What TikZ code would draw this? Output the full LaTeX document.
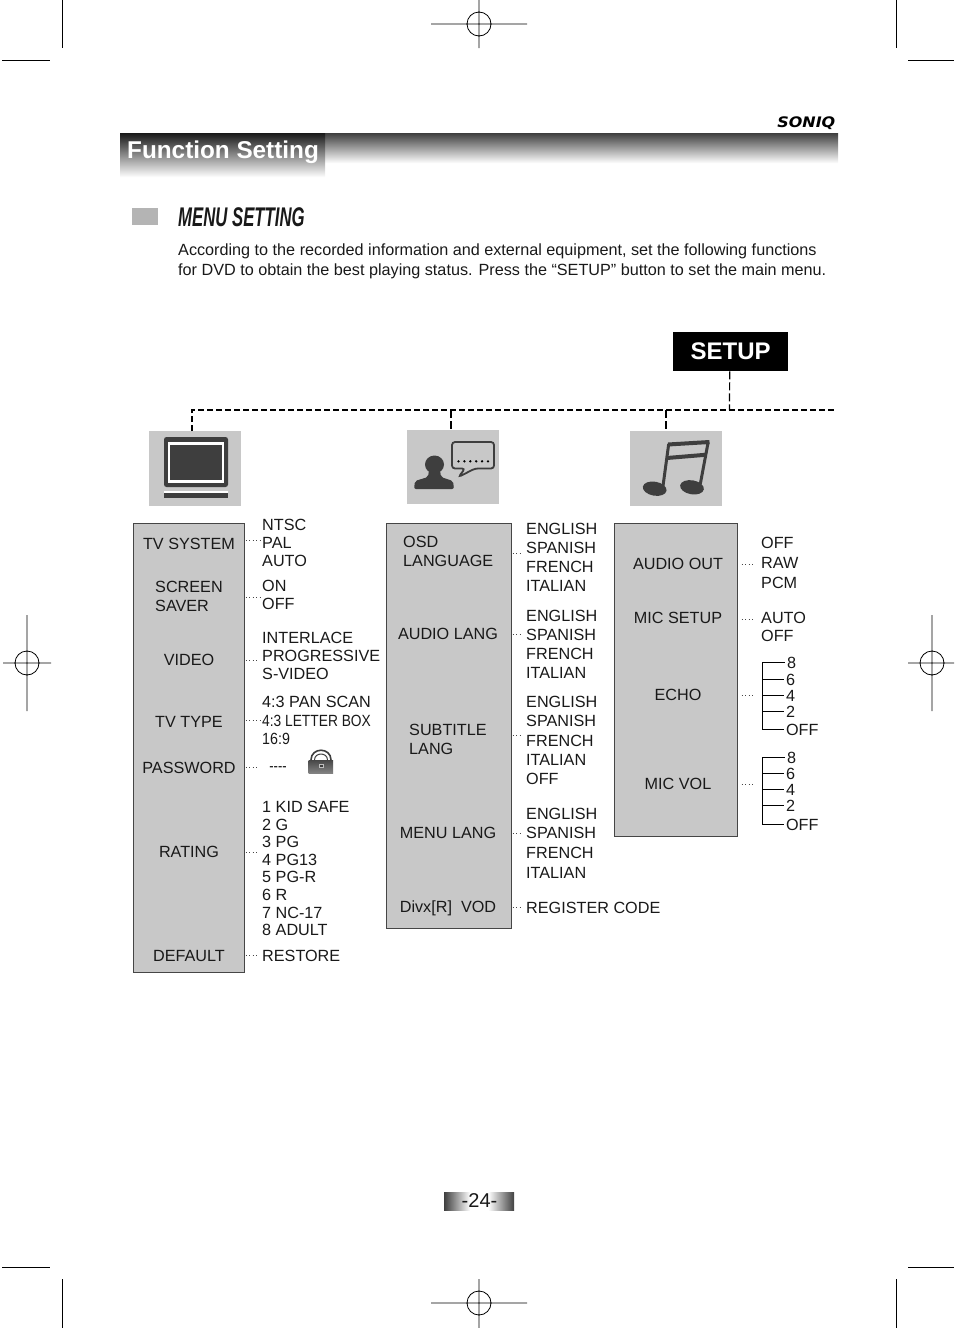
\documentclass[tikz,border=0pt]{standalone}
\usepackage{fontspec}
\setmainfont{Liberation Sans}
\newfontfamily\logofont{DejaVu Sans}
\usetikzlibrary{positioning,calc}
\definecolor{panel1}{RGB}{200,200,200}
\definecolor{edge1}{RGB}{70,70,70}
\definecolor{icon1}{RGB}{62,62,62}
\definecolor{ink1}{RGB}{25,25,25}
\definecolor{square1}{RGB}{180,180,180}

\begin{document}
\begin{tikzpicture}[x=1pt, y=-1pt,
    menubox/.style={draw=edge1, line width=1.1pt, fill=panel1, anchor=north west, inner sep=0pt},
    iconbox/.style={fill=panel1, anchor=north west, inner sep=0pt},
    menulabel/.style={inner sep=0pt, align=left, text=ink1, font=\fontsize{16.2}{19}\selectfont},
    vallist/.style={inner sep=0pt, anchor=west, align=left, text=ink1, font=\fontsize{16.2}{#1}\selectfont},
    treeval/.style={inner sep=0pt, outer sep=2pt, anchor=west, text=ink1, text height=13.2pt, font=\fontsize{16.2}{19}\selectfont},
    leader/.style={draw=edge1, line width=0.7pt, dash pattern=on 1pt off 2.5pt},
    busline/.style={draw=black, line width=1.05pt, dash pattern=on 6pt off 3pt},
    drop/.style={draw=black, line width=1.2pt, dash pattern=on 8pt off 3pt},
    treeline/.style={draw=black, line width=0.9pt},
    cropline/.style={draw=black, line width=0.8pt}]
    \useasboundingbox (0,0) rectangle (954,1328);

    \draw[cropline] (62,0) -- (62,48) (2,60) -- (50,60) (896,0) -- (896,48) (908,60) -- (954,60);
    \draw[cropline] (62,1279) -- (62,1328) (2,1267) -- (50,1267) (896,1279) -- (896,1328) (908,1267) -- (954,1267);
    \draw[cropline] (431,24) -- (527,24) (479,0) -- (479,48) (479,24) circle[radius=12];
    \draw[cropline] (431,1303) -- (527,1303) (479,1279) -- (479,1328) (479,1303) circle[radius=12];
    \draw[cropline] (3,663) -- (51,663) (27,615) -- (27,711) (27,663) circle[radius=12];
    \draw[cropline] (908,663) -- (954,663) (932,615) -- (932,711) (932,663) circle[radius=12];

    \node[anchor=north west, inner sep=0pt, minimum width=718pt, minimum height=30pt, top color=black!75, bottom color=white] (banner) at (120,133) {};
    \node[anchor=north west, inner sep=0pt, minimum width=205pt, minimum height=44pt, top color=black!90, bottom color=white] (titletab) at (120,133) {};
    \node[text=white, inner sep=0pt, anchor=base west, font=\fontsize{24.3}{28}\selectfont\bfseries] (title) at (127,158) {Function Setting};
    \node[inner sep=0pt, anchor=east, font=\logofont\fontsize{14.5}{15}\selectfont\bfseries\itshape] (logo) at (835.5,123) {\scalebox{1.1}[1]{SONIQ}};

    \node[anchor=north west, inner sep=0pt, minimum width=26pt, minimum height=17pt, fill=square1] (marker) at (132,208) {};
    \node[inner sep=0pt, anchor=west, text=ink1, font=\fontsize{27}{30}\selectfont\bfseries\itshape] (heading) at (178,217) {\scalebox{.62}[1]{MENU SETTING}};
    \node[inner sep=0pt, anchor=north west, align=left, text=ink1, font=\fontsize{16.2}{19.5}\selectfont] (intro) at (178,244) {According to the recorded information and external equipment, set the following functions\\for DVD to obtain the best playing status. Press the “SETUP” button to set the main menu.};

    \node[anchor=north west, inner sep=0pt, minimum width=115pt, minimum height=39pt, fill=black, text=white, font=\fontsize{24}{28}\selectfont\bfseries] (setup) at (673,332) {SETUP};

    \node[iconbox, minimum width=92pt, minimum height=75pt] (tvicon) at (149,431) {};
    \node[iconbox, minimum width=92pt, minimum height=74pt] (talkicon) at (407,430) {};
    \node[iconbox, minimum width=92pt, minimum height=75pt] (noteicon) at (630,431) {};

    \coordinate (busstart) at (192,410);
    \coordinate (busend) at (836,410);
    \coordinate (setupdrop) at (729.5,410);
    \coordinate (talkdrop) at (451,410);
    \coordinate (notedrop) at (666,410);
    \draw[drop] ([xshift=-1pt]setup.south) -- (setupdrop);
    \draw[busline] (busstart |- tvicon.north) -- (busstart) -- (busend);
    \draw[drop] (talkdrop) -- (talkdrop |- talkicon.north);
    \draw[drop] (notedrop) -- (notedrop |- noteicon.north);

    \fill[icon1, rounded corners=2.5pt] (164,437) rectangle (228,487);
    \fill[white] (168,442) rectangle (224,483);
    \fill[icon1] (170,445) rectangle (222,480);
    \fill[white] (164,491) rectangle (228,493);
    \fill[icon1] (164,493) rectangle (228,498);

    \fill[icon1] (434.5,464.5) ellipse[x radius=9.5, y radius=9];
    \fill[icon1, rounded corners=2pt] (414,489) -- (415,481) -- (428,477) -- (429,470) -- (440,470) -- (441,477) -- (453,481) -- (454,489) -- cycle;
    \draw[icon1, line width=1.8pt, rounded corners=3pt, fill=panel1] (452,442) -- (494,442) -- (494,468.5) -- (475,468.5) -- (458.5,477) -- (465,468.5) -- (452,468.5) -- cycle;
    \foreach \dotx in {458.5,464.4,470.3,476.2,482.1,488}
        \fill[black] (\dotx,461.3) circle[radius=1.3];

    \draw[icon1, line width=3pt] (668.7,444) -- (663,486);
    \draw[icon1, line width=3pt] (708,443) -- (700.3,484);
    \draw[icon1, line width=4pt] (668,444.5) -- (709.5,442);
    \draw[icon1, line width=4pt] (667,458) -- (706.5,454.7);
    \fill[icon1, rotate around={-10:(654.7,488.7)}] (654.7,488.7) ellipse[x radius=12, y radius=7];
    \fill[icon1, rotate around={-10:(692,487.3)}] (692,487.3) ellipse[x radius=12, y radius=7];

    \node[menubox, minimum width=111pt, minimum height=448.5pt] (videobox) at (132.5,523) {};
    \node[menubox, minimum width=125pt, minimum height=404.5pt] (langbox) at (385.5,523) {};
    \node[menubox, minimum width=123pt, minimum height=312.5pt] (audiobox) at (613.5,523) {};

    \node[menulabel] (tvsystem) at (189,544) {TV SYSTEM};
    \node[menulabel, anchor=west] (saver) at (155,596.5) {SCREEN\\SAVER};
    \node[menulabel] (video) at (189,660) {VIDEO};
    \node[menulabel] (tvtype) at (189,722) {TV TYPE};
    \node[menulabel] (password) at (189,768) {PASSWORD};
    \node[menulabel] (rating) at (189,852) {RATING};
    \node[menulabel] (default) at (189,956) {DEFAULT};

    \node[vallist=18] (tvsystemval) at (262,543) {NTSC\\PAL\\AUTO};
    \node[vallist=18] (saverval) at (262,595) {ON\\OFF};
    \node[vallist=17.6] (videoval) at (262,656) {INTERLACE\\PROGRESSIVE\\S-VIDEO};
    \node[vallist=18] (tvtypeval) at (262,720.5) {4:3 PAN SCAN\\[1.5pt]\scalebox{.85}[1]{4:3 LETTER BOX}\\\scalebox{.88}[1]{16:9}};
    \node[vallist=18, anchor=center] (passwordval) at (278,769) {\scalebox{.8}[1]{{-}{-}{-}{-}}};
    \node[vallist=17.6] (ratingval) at (262,868.5) {1 KID SAFE\\2 G\\3 PG\\4 PG13\\5 PG-R\\6 R\\7 NC-17\\8 ADULT};
    \node[vallist=18] (defaultval) at (262,956) {RESTORE};

    \fill[top color=black!72, bottom color=black!48] (308.5,760) rectangle (333,773.5);
    \draw[icon1, line width=1.6pt] (311,760) .. controls (311,747) and (331,747) .. (331,760);
    \draw[icon1, line width=1pt] (314.5,760) .. controls (314.5,752) and (327.5,752) .. (327.5,760);
    \fill[black!25] (318.5,763.5) rectangle (323.5,767.5);
    \fill[icon1] (320,764.5) rectangle (322.5,766.5);

    \foreach \leadname/\leadx/\leady in {tvsystemend/261/540,saverend/260/597,videoend/258/660,tvtypeend/260/720,passwordend/258/767,ratingend/258/852,defaultend/258/955} {
        \coordinate (\leadname) at (\leadx,\leady);
        \draw[leader] ([xshift=1pt]\leadname -| videobox.east) -- (\leadname);
    }

    \node[menulabel, anchor=west] (osd) at (403,551.5) {OSD\\LANGUAGE};
    \node[menulabel] (audiolang) at (448,634) {AUDIO LANG};
    \node[menulabel, anchor=west] (subtitle) at (409,739.5) {SUBTITLE\\LANG};
    \node[menulabel] (menulang) at (448,833) {MENU LANG};
    \node[menulabel] (divx) at (448,908.5) {Divx[R]\ \ VOD};

    \node[vallist=19] (osdval) at (526,557) {ENGLISH\\SPANISH\\FRENCH\\ITALIAN};
    \node[vallist=19] (audioval) at (526,644) {ENGLISH\\SPANISH\\FRENCH\\ITALIAN};
    \node[vallist=19.3] (subtitleval) at (526,740.5) {ENGLISH\\SPANISH\\FRENCH\\ITALIAN\\OFF};
    \node[vallist=19.6] (menuval) at (526,843) {ENGLISH\\SPANISH\\FRENCH\\ITALIAN};
    \node[vallist=19] (divxval) at (526,908) {REGISTER CODE};

    \foreach \leadname/\leady in {osdend/553,audioend/634,subtitleend/735,menuend/833,divxend/907} {
        \coordinate (\leadname) at (522,\leady);
        \draw[leader] ([xshift=1pt]\leadname -| langbox.east) -- (\leadname);
    }

    \node[menulabel] (audioout) at (678,564) {AUDIO OUT};
    \node[menulabel] (micsetup) at (678,618) {MIC SETUP};
    \node[menulabel] (echo) at (678,695) {ECHO};
    \node[menulabel] (micvol) at (678,784) {MIC VOL};

    \node[vallist=20] (audioval2) at (761,563) {OFF\\RAW\\PCM};
    \node[vallist=18.5] (micsetupval) at (761,627) {AUTO\\OFF};

    \foreach \leadname/\leady in {audioend/564,micsetupend/619,echoend/695,micvolend/784} {
        \coordinate (\leadname) at (755,\leady);
        \draw[leader] ([xshift=4pt]\leadname -| audiobox.east) -- (\leadname);
    }

    \coordinate (echoroot) at (762,662);
    \node[treeval] (echo8) at (785,662) {8};
    \node[treeval] (echo6) at (784,679) {6};
    \node[treeval] (echo4) at (784,695) {4};
    \node[treeval] (echo2) at (784,711) {2};
    \node[treeval] (echooff) at (784,729) {OFF};
    \draw[treeline] (echoroot) -- (echo8.west);
    \foreach \treename in {echo6,echo4,echo2,echooff}
        \draw[treeline] (echoroot) |- (\treename.west);

    \coordinate (volroot) at (762,757);
    \node[treeval] (vol8) at (785,757) {8};
    \node[treeval] (vol6) at (784,773) {6};
    \node[treeval] (vol4) at (784,789) {4};
    \node[treeval] (vol2) at (784,805) {2};
    \node[treeval] (voloff) at (784,824) {OFF};
    \draw[treeline] (volroot) -- (vol8.west);
    \foreach \treename in {vol6,vol4,vol2,voloff}
        \draw[treeline] (volroot) |- (\treename.west);

    \node[anchor=north west, inner sep=0pt, minimum width=26pt, minimum height=18pt, left color=black!75, right color=white] (pageleft) at (444,1192) {};
    \node[anchor=north west, inner sep=0pt, minimum width=26pt, minimum height=18pt, left color=white, right color=black!75] (pageright) at (488,1192) {};
    \node[inner sep=0pt, text=ink1, font=\fontsize{20}{22}\selectfont] (pagenum) at (479.5,1201) {-24-};
\end{tikzpicture}
\end{document}
